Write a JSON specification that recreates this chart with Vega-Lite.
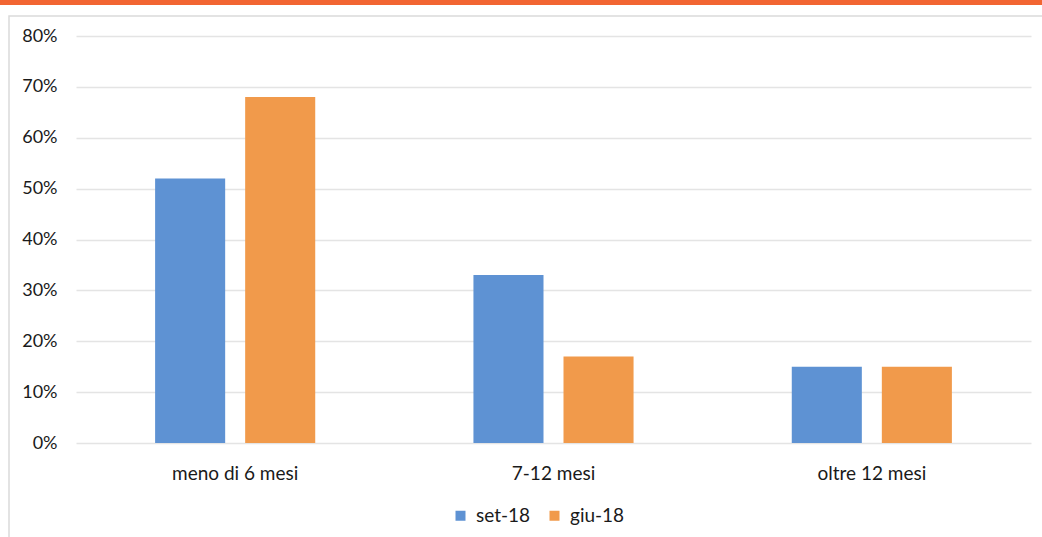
{
  "$schema": "https://vega.github.io/schema/vega-lite/v6.json",
  "background": "white",
  "padding": 0,
  "spacing": 11,
  "bounds": "flush",
  "config": {
    "font": "Lato",
    "view": {"stroke": null}
  },
  "vconcat": [
    {
      "width": 1042,
      "height": 5,
      "view": {"fill": "#F26532", "stroke": null},
      "data": {"values": []},
      "mark": "rule",
      "encoding": {}
    },
    {
      "bounds": "flush",
      "spacing": -530,
      "vconcat": [
        {
          "bounds": "flush",
          "spacing": 0,
          "hconcat": [
            {
              "width": 9,
              "height": 530,
              "data": {"values": []},
              "mark": "rule",
              "encoding": {}
            },
            {
              "width": 1040,
              "height": 530,
              "view": {"fill": "white", "stroke": "#DADADA", "strokeWidth": 1.5},
              "data": {"values": []},
              "mark": "rule",
              "encoding": {}
            }
          ]
        },
        {
          "bounds": "flush",
          "spacing": 0,
          "vconcat": [
            {
              "width": 1,
              "height": 20,
              "data": {"values": []},
              "mark": "rule",
              "encoding": {}
            },
            {
              "bounds": "flush",
              "spacing": 0,
              "hconcat": [
                {
                  "width": 76,
                  "height": 407,
                  "data": {"values": []},
                  "mark": "rule",
                  "encoding": {}
                },
                {
                  "width": 955,
                  "height": 407,
                  "data": {
                    "values": [
                      {"durata": "meno di 6 mesi", "periodo": "set-18", "quota": 0.52},
                      {"durata": "meno di 6 mesi", "periodo": "giu-18", "quota": 0.68},
                      {"durata": "7-12 mesi", "periodo": "set-18", "quota": 0.33},
                      {"durata": "7-12 mesi", "periodo": "giu-18", "quota": 0.17},
                      {"durata": "oltre 12 mesi", "periodo": "set-18", "quota": 0.15},
                      {"durata": "oltre 12 mesi", "periodo": "giu-18", "quota": 0.15}
                    ]
                  },
                  "mark": {"type": "bar"},
                  "encoding": {
                    "x": {
                      "field": "durata",
                      "type": "nominal",
                      "sort": ["meno di 6 mesi", "7-12 mesi", "oltre 12 mesi"],
                      "scale": {"paddingInner": 0.497, "paddingOuter": 0.2485},
                      "axis": {
                        "title": null,
                        "labelAngle": 0,
                        "labelFontSize": 19,
                        "labelColor": "#1a1a1a",
                        "labelPadding": 21,
                        "ticks": false,
                        "domain": false
                      }
                    },
                    "xOffset": {
                      "field": "periodo",
                      "type": "nominal",
                      "sort": ["set-18", "giu-18"],
                      "scale": {"paddingInner": 0.222, "paddingOuter": 0}
                    },
                    "y": {
                      "field": "quota",
                      "type": "quantitative",
                      "scale": {"domain": [0, 0.8]},
                      "axis": {
                        "title": null,
                        "format": ".0%",
                        "values": [0, 0.1, 0.2, 0.3, 0.4, 0.5, 0.6, 0.7, 0.8],
                        "labelFontSize": 18,
                        "labelColor": "#1a1a1a",
                        "labelPadding": 19,
                        "ticks": false,
                        "domain": false,
                        "gridColor": "#E4E4E4",
                        "gridWidth": 1.5
                      }
                    },
                    "color": {
                      "field": "periodo",
                      "type": "nominal",
                      "sort": ["set-18", "giu-18"],
                      "scale": {"domain": ["set-18", "giu-18"], "range": ["#5E92D3", "#F19A4B"]},
                      "legend": {
                        "title": null,
                        "orient": "none",
                        "legendX": 451,
                        "legendY": 506,
                        "direction": "horizontal",
                        "symbolType": "square",
                        "symbolSize": 100,
                        "symbolStrokeWidth": 0,
                        "labelFontSize": 19,
                        "labelColor": "#1a1a1a",
                        "labelOffset": 6,
                        "columnPadding": 14
                      }
                    }
                  }
                }
              ]
            }
          ]
        }
      ]
    }
  ]
}
